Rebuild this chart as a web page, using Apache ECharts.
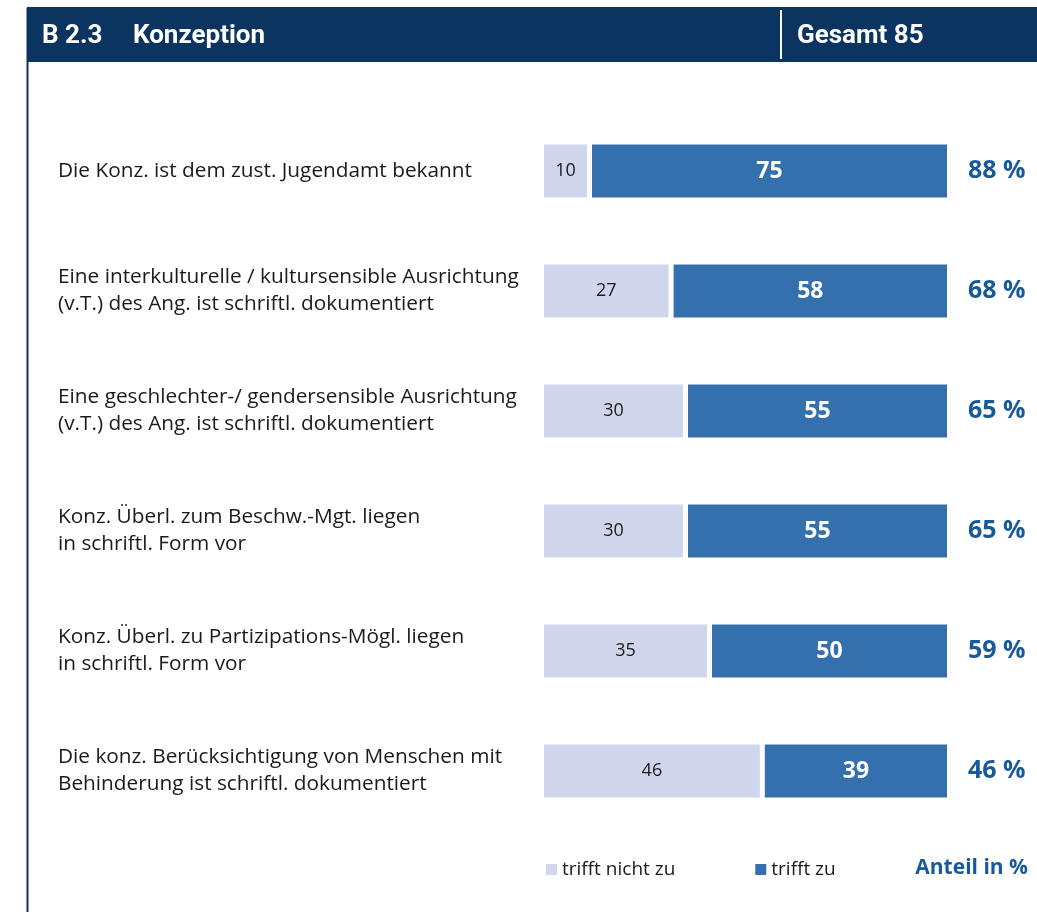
<!DOCTYPE html>
<html><head><meta charset="utf-8">
<script src="https://cdn.jsdelivr.net/npm/echarts@6/dist/echarts.min.js"></script>
<style>html,body{margin:0;padding:0;background:#fff}#c{width:1037px;height:912px}</style>
</head><body><div id="c"></div>
<script>
const categories = [
  "Die Konz. ist dem zust. Jugendamt bekannt",
  "Eine interkulturelle / kultursensible Ausrichtung\n(v.T.) des Ang. ist schriftl. dokumentiert",
  "Eine geschlechter-/ gendersensible Ausrichtung\n(v.T.) des Ang. ist schriftl. dokumentiert",
  "Konz. Überl. zum Beschw.-Mgt. liegen\nin schriftl. Form vor",
  "Konz. Überl. zu Partizipations-Mögl. liegen\nin schriftl. Form vor",
  "Die konz. Berücksichtigung von Menschen mit\nBehinderung ist schriftl. dokumentiert"
];
const trifftNichtZu = [10, 27, 30, 30, 35, 46];
const trifftZu = [75, 58, 55, 55, 50, 39];
const anteilLabels = ["88 %", "68 %", "65 %", "65 %", "59 %", "46 %"];
const total = 85;

const chart = echarts.init(document.getElementById('c'));
const navy = '#0b3461';
chart.setOption({
  animation: false,
  grid: {left: 541.5, right: 87.5, top: 111, bottom: 81, containLabel: false},
  xAxis: {type: 'value', min: 0, max: total, show: false},
  yAxis: [{
    type: 'category', data: categories, inverse: true,
    axisLine: {show: false}, axisTick: {show: false},
    axisLabel: {align: 'left', margin: 483.5, fontFamily: 'Open Sans', fontSize: 20.8, color: '#1a1a1a', lineHeight: 27}
  }, {
    type: 'category', data: anteilLabels, inverse: true, position: 'right',
    axisLine: {show: false}, axisTick: {show: false},
    axisLabel: {align: 'left', margin: 18.5, fontFamily: 'Open Sans', fontWeight: 'bold', fontSize: 25, color: '#175a9c'}
  }],
  legend: {
    left: 539, top: 855, itemWidth: 13, itemHeight: 13, itemGap: 78,
    icon: 'rect',
    textStyle: {fontFamily: 'Open Sans', fontSize: 19, color: '#1a1a1a', padding: [0,0,0,-1]},
    data: ['trifft nicht zu', 'trifft zu']
  },
  series: [{
    name: 'trifft nicht zu', type: 'bar', stack: 's', data: trifftNichtZu, barWidth: 58,
    itemStyle: {color: '#d0d7ec', borderColor: '#ffffff', borderWidth: 2.5},
    label: {show: true, position: 'inside', fontFamily: 'Open Sans', fontSize: 18, color: '#1a1a1a'}
  }, {
    name: 'trifft zu', type: 'bar', stack: 's', data: trifftZu, barWidth: 58,
    itemStyle: {color: '#3470ae', borderColor: '#ffffff', borderWidth: 2.5},
    label: {show: true, position: 'inside', fontFamily: 'Open Sans', fontWeight: 'bold', fontSize: 23, color: '#ffffff'}
  }],
  graphic: [
    {type: 'rect', shape: {x: 27, y: 7, width: 1010, height: 55}, style: {fill: navy}},
    {type: 'line', shape: {x1: 27.5, y1: 8, x2: 27.5, y2: 912}, style: {stroke: navy, lineWidth: 2}},
    {type: 'line', shape: {x1: 781, y1: 10, x2: 781, y2: 59}, style: {stroke: '#ffffff', lineWidth: 2}},
    {type: 'text', x: 42, y: 36, style: {text: 'B 2.3', fill: '#fff', fontFamily: 'Roboto', fontWeight: 'bold', fontSize: 26, verticalAlign: 'middle'}},
    {type: 'text', x: 133, y: 36, style: {text: 'Konzeption', fill: '#fff', fontFamily: 'Roboto', fontWeight: 'bold', fontSize: 26, verticalAlign: 'middle'}},
    {type: 'text', x: 797, y: 36, style: {text: 'Gesamt 85', fill: '#fff', fontFamily: 'Roboto', fontWeight: 'bold', fontSize: 26, verticalAlign: 'middle'}},
    {type: 'text', right: 9, top: 858, style: {text: 'Anteil in %', fill: '#175a9c', fontFamily: 'Open Sans', fontWeight: 'bold', fontSize: 21}}
  ]
});
</script></body></html>
